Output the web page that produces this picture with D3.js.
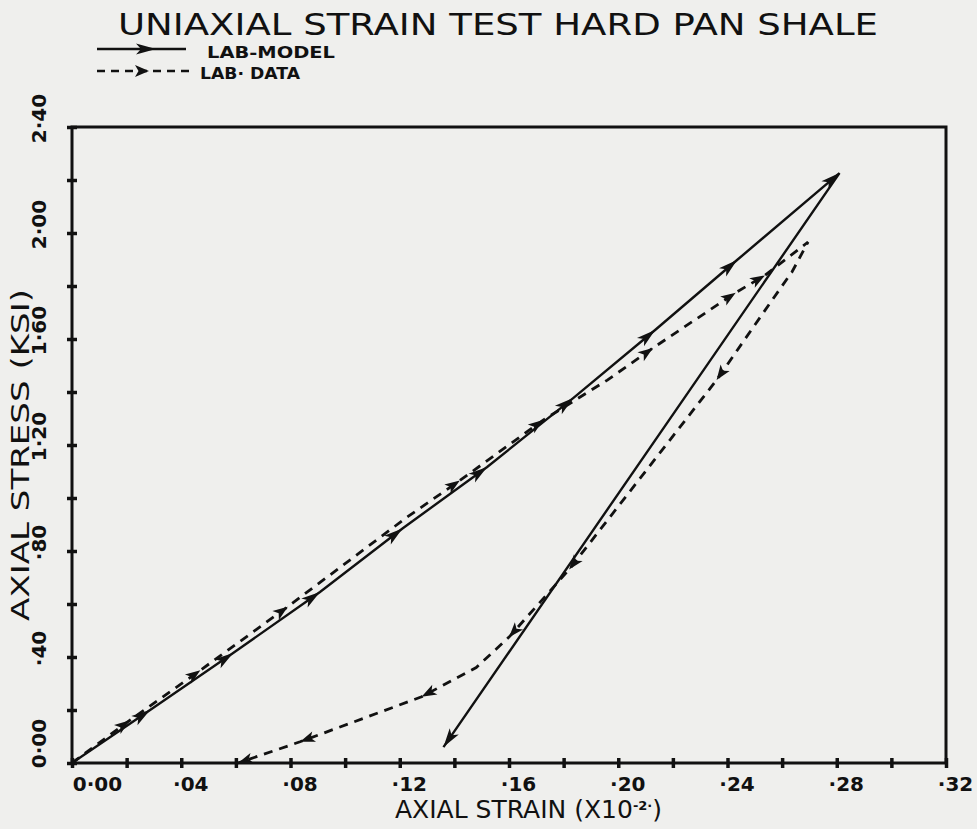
<!DOCTYPE html>
<html><head><meta charset="utf-8">
<script src="https://cdn.jsdelivr.net/npm/d3@7"></script>
<style>body{margin:0;background:#efefed;}svg{display:block}</style>
</head><body>
<svg id="c" width="977" height="829"></svg>
<script>
// ---- data ----
const titleText = "UNIAXIAL STRAIN TEST HARD PAN SHALE";
const legendLabels = ["LAB-MODEL", "LAB· DATA"];
const xLabel = "AXIAL STRAIN (X10";
const xLabelSup = "-2·";
const yLabel = "AXIAL STRESS (KSI)";

const xMinorTicks = [0,0.02,0.04,0.06,0.08,0.10,0.12,0.14,0.16,0.18,0.20,0.22,0.24,0.26,0.28,0.30,0.32];
const xLabelTicks = [0,0.04,0.08,0.12,0.16,0.20,0.24,0.28,0.32];
const xTickLabels = ["0·00","·04","·08","·12","·16","·20","·24","·28","·32"];
const yMinorTicks = [0,0.2,0.4,0.6,0.8,1.0,1.2,1.4,1.6,1.8,2.0,2.2,2.4];
const yLabelTicks = [0,0.4,0.8,1.2,1.6,2.0,2.4];
const yTickLabels = ["0·00","·40","·80","1·20","1·60","2·00","2·40"];

// LAB-MODEL (solid): loading then unloading
const modelStrain = [0, 0.0286, 0.059, 0.0908, 0.121, 0.152, 0.1835, 0.2135, 0.2435, 0.281, 0.136];
const modelStress = [0, 0.20, 0.415, 0.645, 0.885, 1.117, 1.377, 1.634, 1.898, 2.226, 0.06];
const modelArrowIdx = [1,2,3,4,5,6,7,8,9,10];

// LAB DATA (dashed): loading then unloading
const dataStrain = [0, 0.021, 0.047, 0.079, 0.1227, 0.142, 0.1725, 0.196, 0.2127, 0.243, 0.2537, 0.2695,
                    0.2636, 0.2556, 0.236, 0.182, 0.160, 0.148, 0.128, 0.0835, 0.0608];
const dataStress = [0, 0.16, 0.35, 0.59, 0.928, 1.066, 1.294, 1.445, 1.566, 1.775, 1.84, 1.966,
                    1.853, 1.736, 1.445, 0.73, 0.475, 0.36, 0.25, 0.08, 0.0];
const dataArrowIdx = [1,2,3,5,6,8,9,10,14,15,16,18,19,20];

// ---- chart ----
const svg = d3.select("#c");
const ink = "#111";
const x = d3.scaleLinear().domain([0,0.32]).range([72,946]);
const y = d3.scaleLinear().domain([0,2.4]).range([763,127]);

svg.append("rect").attr("width",977).attr("height",829).attr("fill","#efefed");

// title
svg.append("text").attr("x",118).attr("y",35)
  .attr("font-family","DejaVu Sans").attr("font-size",31).attr("fill",ink)
  .attr("textLength",760).attr("lengthAdjust","spacingAndGlyphs")
  .text(titleText);

// arrow drawing helper
function arrowAt(g, px, py, ang, len, wid){
  const c = Math.cos(ang), s = Math.sin(ang);
  const bx = px - c*len, by = py - s*len;
  const p = [[px,py],[bx - s*wid/2, by + c*wid/2],[px - c*len*0.75, py - s*len*0.75],[bx + s*wid/2, by - c*wid/2]];
  g.append("path").attr("d","M"+p.map(d=>d.join(",")).join("L")+"Z").attr("fill",ink);
}

// legend
const lg = svg.append("g");
lg.append("line").attr("x1",97).attr("x2",186).attr("y1",49).attr("y2",49).attr("stroke",ink).attr("stroke-width",2.5);
arrowAt(lg,156,49,0,20,11);
lg.append("line").attr("x1",97).attr("x2",190).attr("y1",71).attr("y2",71).attr("stroke",ink).attr("stroke-width",2.5).attr("stroke-dasharray","8,6");
arrowAt(lg,149,71,0,14,12);
lg.append("text").attr("x",207).attr("y",58).attr("font-family","DejaVu Sans").attr("font-weight","bold")
  .attr("font-size",15).attr("fill",ink).attr("textLength",128).attr("lengthAdjust","spacingAndGlyphs").text(legendLabels[0]);
lg.append("text").attr("x",200).attr("y",79).attr("font-family","DejaVu Sans").attr("font-weight","bold")
  .attr("font-size",15).attr("fill",ink).attr("textLength",100).attr("lengthAdjust","spacingAndGlyphs").text(legendLabels[1]);

// frame
svg.append("rect").attr("x",x(0)).attr("y",y(2.4)).attr("width",x(0.32)-x(0)).attr("height",y(0)-y(2.4))
  .attr("fill","none").attr("stroke",ink).attr("stroke-width",3);

// minor cross ticks via d3 axes
const xAx = svg.append("g").attr("transform",`translate(0,${y(0)-5})`)
  .call(d3.axisBottom(x).tickValues(xMinorTicks).tickSize(10).tickFormat(""));
xAx.select(".domain").remove();
xAx.selectAll("line").attr("stroke",ink).attr("stroke-width",3.5);
const yAx = svg.append("g").attr("transform",`translate(${x(0)+5},0)`)
  .call(d3.axisLeft(y).tickValues(yMinorTicks).tickSize(10).tickFormat(""));
yAx.select(".domain").remove();
yAx.selectAll("line").attr("stroke",ink).attr("stroke-width",3.5);

// tick labels
const xl = svg.append("g").attr("transform",`translate(0,${y(0)})`)
  .call(d3.axisBottom(x).tickValues(xLabelTicks).tickSize(0).tickFormat((d,i)=>xTickLabels[i]));
xl.select(".domain").remove();
xl.selectAll("text").attr("font-family","DejaVu Sans").attr("font-weight","bold").attr("font-size",20)
  .attr("fill",ink).attr("dy",0).attr("y",28)
  .attr("dx",(d,i)=> i===0 ? 25 : 9);

const yl = svg.append("g").attr("transform",`translate(${x(0)},0)`)
  .call(d3.axisLeft(y).tickValues(yLabelTicks).tickSize(0).tickFormat((d,i)=>yTickLabels[i]));
yl.select(".domain").remove();
yl.selectAll("text").attr("font-family","DejaVu Sans").attr("font-weight","bold").attr("font-size",20)
  .attr("fill",ink).attr("x",null).attr("dy",null).attr("text-anchor","middle")
  .attr("transform",(d,i)=>`translate(-26,${i===0 ? -20 : -9}) rotate(-90)`)
  .attr("y",0);

// axis titles
const xt = svg.append("text").attr("x",395).attr("y",818).attr("font-family","DejaVu Sans")
  .attr("font-size",25).attr("fill",ink);
xt.append("tspan").text(xLabel);
xt.append("tspan").attr("dy",-8).attr("font-size",13).attr("font-weight","bold").text(xLabelSup);
xt.append("tspan").attr("dy",8).text(")");

svg.append("text").attr("transform","translate(29,455) rotate(-90)").attr("text-anchor","middle")
  .attr("font-family","DejaVu Sans").attr("font-size",25).attr("fill",ink)
  .attr("textLength",332).attr("lengthAdjust","spacingAndGlyphs").text(yLabel);

// curves
const line = d3.line().x(d=>x(d[0])).y(d=>y(d[1]));
const modelPts = modelStrain.map((v,i)=>[v,modelStress[i]]);
const dataPts = dataStrain.map((v,i)=>[v,dataStress[i]]);

svg.append("path").attr("d",line(dataPts)).attr("fill","none").attr("stroke",ink)
  .attr("stroke-width",2.8).attr("stroke-dasharray","9,7");
svg.append("path").attr("d",line(modelPts)).attr("fill","none").attr("stroke",ink)
  .attr("stroke-width",2.4);

const ag = svg.append("g");
function arrowsFor(pts, idx, len, wid){
  idx.forEach(i=>{
    const p = pts[i], q = pts[i-1];
    const ang = Math.atan2(y(p[1])-y(q[1]), x(p[0])-x(q[0]));
    arrowAt(ag, x(p[0]), y(p[1]), ang, len, wid);
  });
}
arrowsFor(modelPts, modelArrowIdx, 19, 11);
arrowsFor(dataPts, dataArrowIdx, 15, 11);
</script>
</body></html>
